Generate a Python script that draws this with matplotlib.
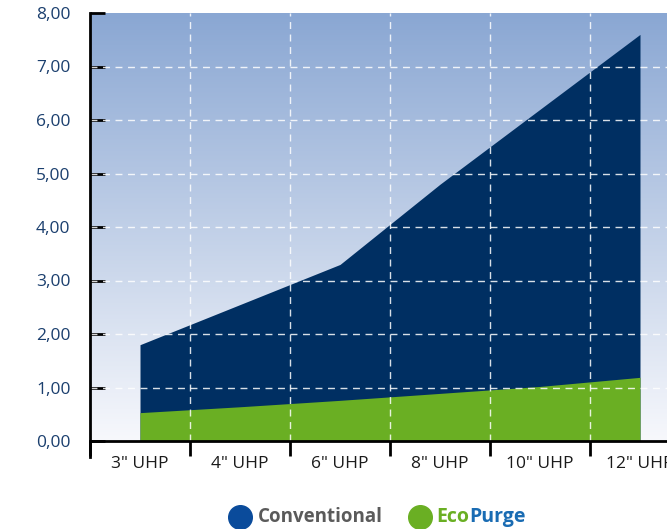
import numpy as np
import matplotlib
matplotlib.use("Agg")
import matplotlib.pyplot as plt
from matplotlib.lines import Line2D
from matplotlib.colors import LinearSegmentedColormap

# Data
categories = ['3" UHP', '4" UHP', '6" UHP', '8" UHP', '10" UHP', '12" UHP']
conventional = [1.80, 2.55, 3.30, 4.80, 6.20, 7.60]
ecopurge = [0.53, 0.64, 0.76, 0.89, 1.02, 1.19]
y_ticks = [0, 1, 2, 3, 4, 5, 6, 7, 8]
y_labels = ["0,00", "1,00", "2,00", "3,00", "4,00", "5,00", "6,00", "7,00", "8,00"]

navy = "#002f62"
green = "#6aaf23"
label_blue = "#1b3f6e"

plt.rcParams['font.family'] = ['Open Sans', 'DejaVu Sans']

fig = plt.figure(figsize=(6.67, 5.29), dpi=100)
ax = fig.add_axes([90 / 667, 88 / 529, 600 / 667, 428 / 529])

x = np.arange(len(categories))

# gradient background
grad = LinearSegmentedColormap.from_list("bg", ["#f7f8fc", "#8aa7d3"])
ax.imshow(np.linspace(0, 1, 256).reshape(-1, 1), cmap=grad, aspect="auto",
          extent=[0, 1, 0, 1], transform=ax.transAxes, origin="lower", zorder=0)

ax.fill_between(x, 0, conventional, color=navy, lw=0, zorder=1)
ax.fill_between(x, 0, ecopurge, color=green, lw=0, zorder=2)

ax.set_xlim(-0.5, 5.5)
ax.set_ylim(0, 8)

# grid
for yv in range(1, 8):
    ax.axhline(yv, color="white", lw=1, ls=(0, (5, 4)), alpha=0.85, zorder=3)
for xv in np.arange(0.5, 5.0, 1.0):
    ax.axvline(xv, color="white", lw=1, ls=(0, (5, 4)), alpha=0.85, zorder=3)

# spines
for s in ["top", "right"]:
    ax.spines[s].set_visible(False)
ax.spines["left"].set_linewidth(2)
ax.spines["bottom"].set_linewidth(2)
ax.spines["left"].set_bounds(-0.3, 8)

# y ticks
ax.set_yticks(y_ticks)
ax.set_yticklabels(y_labels)
ax.tick_params(axis="y", direction="in", length=11, width=2, pad=14,
               labelsize=12.5, labelcolor=label_blue)

# x ticks: major at boundaries, labels at minor ticks
ax.set_xticks(np.arange(-0.5, 6.0, 1.0))
ax.set_xticklabels([])
ax.tick_params(axis="x", which="major", direction="out", length=11, width=2)
ax.set_xticks(x, minor=True)
ax.set_xticklabels(categories, minor=True)
ax.tick_params(axis="x", which="minor", length=0, pad=11, labelsize=12.5,
               labelcolor="#1a1a1a")
ax.spines["left"].set_zorder(5)
ax.spines["bottom"].set_zorder(5)

# legend
ly = 1 - 517 / 529
fig.add_artist(Line2D([240 / 667], [ly], marker="o", markersize=17,
                      color="#0a4b9b", transform=fig.transFigure))
fig.text(258 / 667, ly, "Conventional", fontsize=13.5, fontweight="bold",
         color="#5a5a5a", va="center", ha="left")
fig.add_artist(Line2D([420 / 667], [ly], marker="o", markersize=17,
                      color=green, transform=fig.transFigure))
eco = fig.text(436 / 667, ly, "Eco", fontsize=14, fontweight="bold",
               color=green, va="center", ha="left")
ax.annotate("Purge", xy=(1, 0.5), xycoords=eco, va="center", ha="left",
            fontsize=14, fontweight="bold", color="#1a6cb3",
            annotation_clip=False)

fig.savefig("out.png", dpi=100)
